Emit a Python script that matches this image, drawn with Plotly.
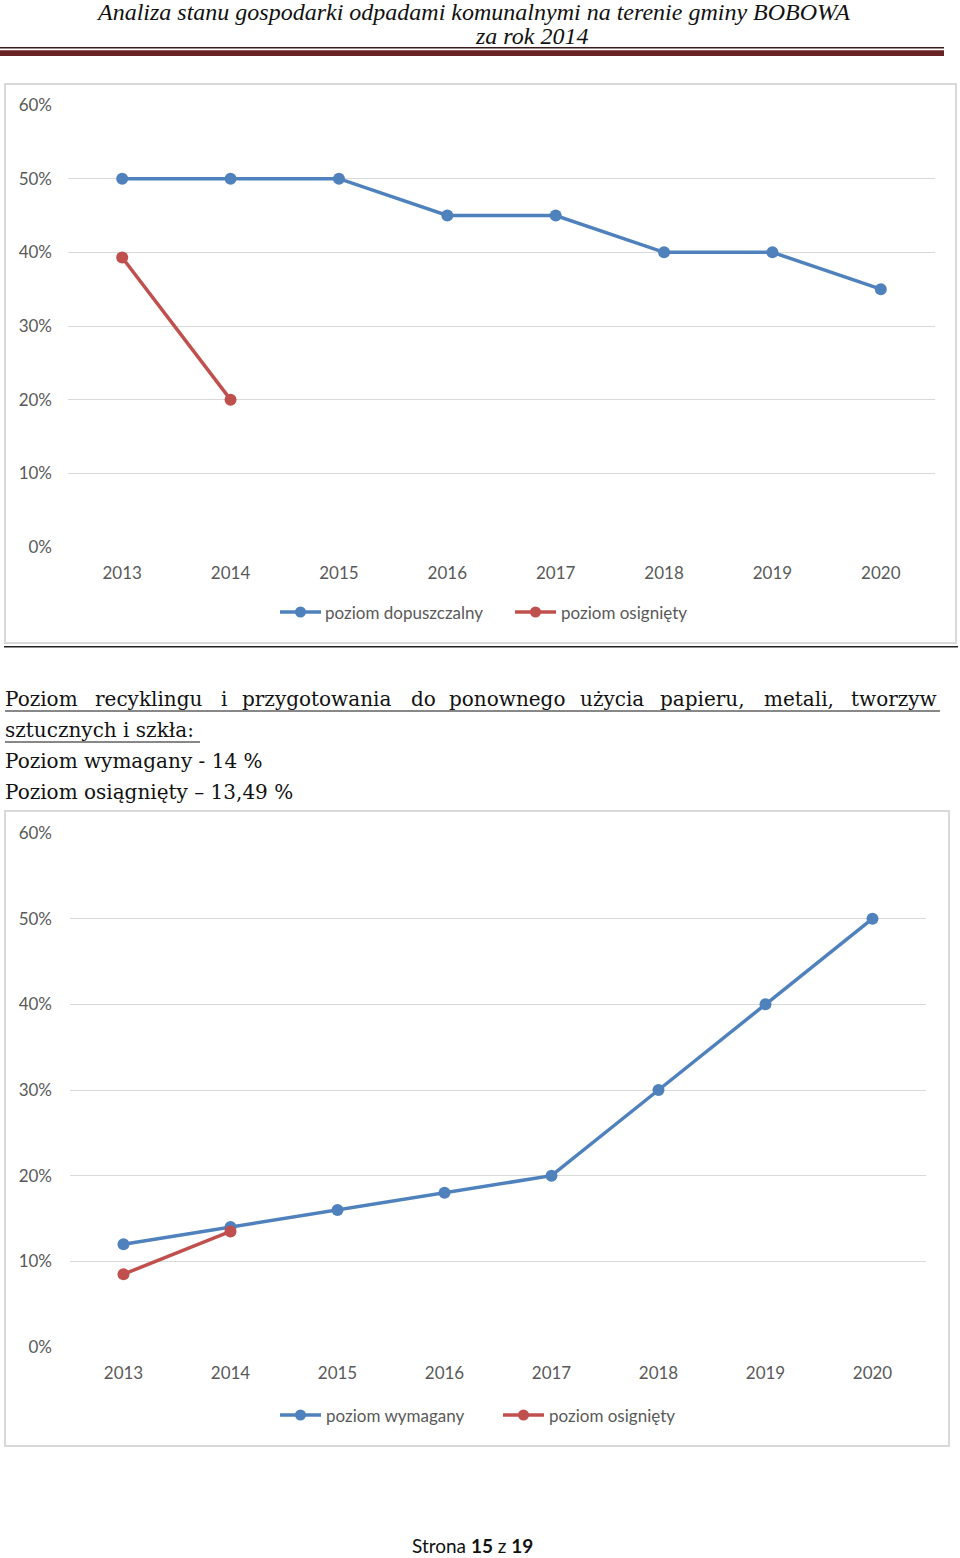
import plotly.graph_objects as go

W, H = 960, 1558

years = ["2013", "2014", "2015", "2016", "2017", "2018", "2019", "2020"]

# Chart 1
dopuszczalny = [50, 50, 50, 45, 45, 40, 40, 35]
osiagniety_1 = [39.3, 20]
years_osiag_1 = ["2013", "2014"]

# Chart 2
wymagany = [12, 14, 16, 18, 20, 30, 40, 50]
osiagniety_2 = [8.5, 13.49]
years_osiag_2 = ["2013", "2014"]

y_ticks = [0, 10, 20, 30, 40, 50, 60]
y_tick_labels = ["0%", "10%", "20%", "30%", "40%", "50%", "60%"]

BLUE = "#4f81bd"
RED = "#c0504d"
GRID = "#d9d9d9"
TXT = "#595959"
CFONT = "Lato"


def px(x):
    return x / W


def py(y):
    return 1 - y / H


fig = go.Figure()

fig.add_trace(go.Scatter(x=years, y=dopuszczalny, mode="lines+markers", name="poziom dopuszczalny",
                         line=dict(color=BLUE, width=3.5), marker=dict(size=12, color=BLUE),
                         xaxis="x", yaxis="y", showlegend=False))
fig.add_trace(go.Scatter(x=years_osiag_1, y=osiagniety_1, mode="lines+markers", name="poziom osignięty",
                         line=dict(color=RED, width=3.5), marker=dict(size=12, color=RED),
                         xaxis="x", yaxis="y", showlegend=False))
fig.add_trace(go.Scatter(x=years, y=wymagany, mode="lines+markers", name="poziom wymagany",
                         line=dict(color=BLUE, width=3.5), marker=dict(size=12, color=BLUE),
                         xaxis="x2", yaxis="y2", showlegend=False))
fig.add_trace(go.Scatter(x=years_osiag_2, y=osiagniety_2, mode="lines+markers", name="poziom osignięty",
                         line=dict(color=RED, width=3.5), marker=dict(size=12, color=RED),
                         xaxis="x2", yaxis="y2", showlegend=False))

axis_font = dict(family=CFONT, size=17, color=TXT)


def xaxis_cfg(x0, x1, anchor):
    return dict(domain=[px(x0), px(x1)], type="category", categoryorder="array", categoryarray=years,
                range=[-0.5, 7.5], showgrid=False, zeroline=False, showline=False, ticks="",
                tickfont=axis_font, anchor=anchor, ticklabelstandoff=14, fixedrange=True,
                automargin=False)


def yaxis_cfg(ytop, ybot, anchor, standoff):
    return dict(domain=[py(ybot), py(ytop)], range=[0, 60], tickmode="array", tickvals=y_ticks,
                ticktext=y_tick_labels,
                showgrid=True, gridcolor=GRID, gridwidth=1, zeroline=False, showline=False, ticks="",
                tickfont=axis_font, anchor=anchor, ticklabelstandoff=standoff, fixedrange=True,
                automargin=False)


fig.update_layout(
    template="none",
    width=W, height=H, autosize=False,
    margin=dict(l=0, r=0, t=0, b=0, pad=0, autoexpand=False),
    paper_bgcolor="white", plot_bgcolor="white",
    showlegend=False,
    xaxis=xaxis_cfg(68, 935, "y"),
    yaxis=yaxis_cfg(105, 547, "x", 15),
    xaxis2=xaxis_cfg(70, 926, "y2"),
    yaxis2=yaxis_cfg(833, 1347, "x2", 17),
)

shapes = []
annotations = []

# Header lines
shapes.append(dict(type="line", xref="paper", yref="paper", x0=px(0), x1=px(944), y0=py(47.7), y1=py(47.7),
                   line=dict(color="#3a1a1a", width=1.5)))
shapes.append(dict(type="rect", xref="paper", yref="paper", x0=px(0), x1=px(944), y0=py(56), y1=py(50.3),
                   fillcolor="#6a2324", line=dict(width=0)))

HFONT = dict(family="Liberation Serif", size=24, color="#111111")
annotations.append(dict(text="<i>Analiza stanu gospodarki odpadami komunalnymi na terenie gminy BOBOWA</i>",
                        x=px(473), y=py(12), xref="paper", yref="paper", showarrow=False,
                        xanchor="center", yanchor="middle", font=HFONT))
annotations.append(dict(text="<i>za rok 2014</i>",
                        x=px(531), y=py(36), xref="paper", yref="paper", showarrow=False,
                        xanchor="center", yanchor="middle", font=HFONT))

# Chart borders
shapes.append(dict(type="rect", xref="paper", yref="paper", x0=px(5), x1=px(956), y0=py(643), y1=py(84),
                   line=dict(color="#d9d9d9", width=2), fillcolor="rgba(0,0,0,0)", layer="below"))
shapes.append(dict(type="rect", xref="paper", yref="paper", x0=px(5), x1=px(949), y0=py(1446), y1=py(811),
                   line=dict(color="#d9d9d9", width=2), fillcolor="rgba(0,0,0,0)", layer="below"))

# separator line
shapes.append(dict(type="line", xref="paper", yref="paper", x0=px(4), x1=px(958), y0=py(646.8), y1=py(646.8),
                   line=dict(color="#222222", width=1.5)))


def legend_item(x_line0, y, color, label, text_x):
    shapes.append(dict(type="line", xref="paper", yref="paper", x0=px(x_line0), x1=px(x_line0 + 41),
                       y0=py(y), y1=py(y), line=dict(color=color, width=3.5)))
    cx = x_line0 + 20.5
    shapes.append(dict(type="circle", xref="paper", yref="paper", x0=px(cx - 5.5), x1=px(cx + 5.5),
                       y0=py(y + 5.5), y1=py(y - 5.5), fillcolor=color, line=dict(width=0)))
    annotations.append(dict(text=label, x=px(text_x), y=py(y), xref="paper", yref="paper", showarrow=False,
                            xanchor="left", yanchor="middle", font=dict(family=CFONT, size=17, color=TXT)))


legend_item(280, 612, BLUE, "poziom dopuszczalny", 323)
legend_item(515, 612, RED, "poziom osignięty", 559)
legend_item(280, 1415, BLUE, "poziom wymagany", 324)
legend_item(503, 1415, RED, "poziom osignięty", 547)

SERIF = dict(family="DejaVu Serif", size=20, color="#111111")
line1_words = [("Poziom", 5), ("recyklingu", 95), ("i", 221), ("przygotowania", 242), ("do", 411),
               ("ponownego", 449), ("użycia", 580), ("papieru,", 660), ("metali,", 764), ("tworzyw", 851)]
for wtxt, wx in line1_words:
    annotations.append(dict(text=wtxt, x=px(wx), y=py(699), xref="paper", yref="paper", showarrow=False,
                            xanchor="left", yanchor="middle", xshift=-2, font=SERIF))
shapes.append(dict(type="line", xref="paper", yref="paper", x0=px(5), x1=px(940), y0=py(711), y1=py(711),
                   line=dict(color="#111111", width=1)))

annotations.append(dict(text="sztucznych i szkła:", x=px(5), y=py(730), xref="paper", yref="paper",
                        showarrow=False, xanchor="left", yanchor="middle", xshift=-2, font=SERIF))
shapes.append(dict(type="line", xref="paper", yref="paper", x0=px(5), x1=px(200), y0=py(742), y1=py(742),
                   line=dict(color="#111111", width=1)))
annotations.append(dict(text="Poziom wymagany - 14 %", x=px(5), y=py(761), xref="paper", yref="paper",
                        showarrow=False, xanchor="left", yanchor="middle", xshift=-2, font=SERIF))
annotations.append(dict(text="Poziom osiągnięty – 13,49 %", x=px(5), y=py(792), xref="paper", yref="paper",
                        showarrow=False, xanchor="left", yanchor="middle", xshift=-2, font=SERIF))

# Footer
annotations.append(dict(text="Strona <b>15</b> z <b>19</b>", x=px(472), y=py(1545), xref="paper", yref="paper",
                        showarrow=False, xanchor="center", yanchor="middle",
                        font=dict(family=CFONT, size=19, color="#111111")))

fig.update_layout(shapes=shapes, annotations=annotations)

fig.write_html("out.html", config={"displayModeBar": False},
               post_script="document.body.style.margin='0';document.body.style.overflow='hidden';")
